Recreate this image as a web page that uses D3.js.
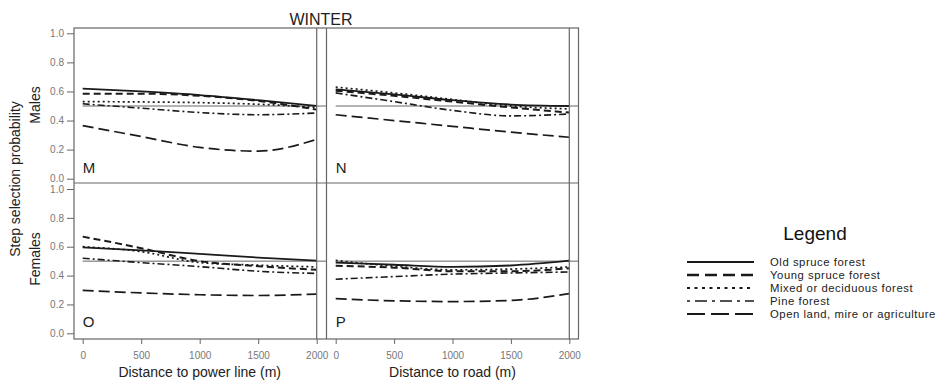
<!DOCTYPE html>
<html><head><meta charset="utf-8">
<script src="https://cdn.jsdelivr.net/npm/d3@7"></script>
<style>body{margin:0;background:#fff}svg{display:block}text{font-family:"Liberation Sans",Arial,sans-serif}</style>
</head><body><svg id="c" width="943" height="381"></svg>
<script>
const distances = [0, 500, 1000, 1500, 2000];
const habitats = ["Old spruce forest","Young spruce forest","Mixed or deciduous forest","Pine forest","Open land, mire or agriculture"];
const xTicks = [0, 500, 1000, 1500, 2000];
const yTicks = [0, 0.2, 0.4, 0.6, 0.8, 1.0];
// Panel M: males, distance to power line
const males_power = [
  [0.62, 0.60, 0.575, 0.54, 0.50],
  [0.585, 0.585, 0.57, 0.535, 0.475],
  [0.53, 0.528, 0.523, 0.512, 0.49],
  [0.515, 0.485, 0.455, 0.44, 0.452],
  [0.365, 0.29, 0.215, 0.19, 0.27]
];
// Panel N: males, distance to road
const males_road = [
  [0.615, 0.58, 0.54, 0.51, 0.50],
  [0.605, 0.57, 0.53, 0.49, 0.455],
  [0.63, 0.59, 0.545, 0.50, 0.48],
  [0.59, 0.53, 0.47, 0.432, 0.445],
  [0.44, 0.40, 0.36, 0.32, 0.285]
];
// Panel O: females, distance to power line
const females_power = [
  [0.595, 0.575, 0.55, 0.525, 0.503],
  [0.67, 0.59, 0.50, 0.465, 0.44],
  [0.60, 0.566, 0.49, 0.472, 0.46],
  [0.52, 0.49, 0.462, 0.43, 0.415],
  [0.297, 0.28, 0.267, 0.262, 0.272]
];
// Panel P: females, distance to road
const females_road = [
  [0.49, 0.475, 0.46, 0.47, 0.503],
  [0.468, 0.455, 0.43, 0.43, 0.45],
  [0.505, 0.465, 0.44, 0.445, 0.46],
  [0.375, 0.393, 0.41, 0.418, 0.425],
  [0.24, 0.225, 0.22, 0.228, 0.275]
];
const panelLetters = ["M","N","O","P"];
const refValue = 0.5;

const styles = [
  {dash:null, w:1.8},
  {dash:"7,4", w:2},
  {dash:"2,3", w:1.7},
  {dash:"7,3,2,3", w:1.6},
  {dash:"11,5", w:1.7}
];
const legendStyles = [
  {dash:null, w:2},
  {dash:"12,6", w:2.6},
  {dash:"3,4.5", w:2},
  {dash:"3,5,12,5", w:1.6},
  {dash:"18,6", w:2}
];

const svg = d3.select("#c");
const frameColor = "#666", lineColor = "#1a1a1a", tickText = "#777";

const xL = d3.scaleLinear().domain([0,2000]).range([82.7,316.7]);
const xR = d3.scaleLinear().domain([0,2000]).range([335.7,569.3]);
const yT = d3.scaleLinear().domain([0,1]).range([178.7,33.3]);
const yB = d3.scaleLinear().domain([0,1]).range([333.3,189]);

const panels = [
  {data:males_power, x:xL, y:yT, x0:74, x1:326.5, y0:28, y1:183, letter:panelLetters[0]},
  {data:males_road, x:xR, y:yT, x0:326.5, x1:578.5, y0:28, y1:183, letter:panelLetters[1]},
  {data:females_power, x:xL, y:yB, x0:74, x1:326.5, y0:183, y1:339, letter:panelLetters[2]},
  {data:females_road, x:xR, y:yB, x0:326.5, x1:578.5, y0:183, y1:339, letter:panelLetters[3]}
];

panels.forEach(p => {
  svg.append("line").attr("x1", p.x(0)).attr("x2", p.x1)
    .attr("y1", p.y(refValue)).attr("y2", p.y(refValue))
    .attr("stroke", frameColor).attr("stroke-width", 1);
  const line = d3.line().x((d,i)=>p.x(distances[i])).y(d=>p.y(d)).curve(d3.curveMonotoneX);
  p.data.forEach((s,k) => {
    svg.append("path").attr("d", line(s)).attr("fill","none")
      .attr("stroke", lineColor).attr("stroke-width", styles[k].w)
      .attr("stroke-dasharray", styles[k].dash);
  });
  svg.append("text").attr("x", p.x(0)).attr("y", p.y(0) - 6)
    .attr("font-size", 15).attr("fill", "#222").text(p.letter);
});

const fr = svg.append("g").attr("stroke", frameColor).attr("stroke-width", 1.2).attr("fill","none");
fr.append("rect").attr("x",74).attr("y",28).attr("width",504.5).attr("height",311);
fr.append("line").attr("x1",74).attr("x2",578.5).attr("y1",183).attr("y2",183);
fr.append("line").attr("x1",326.5).attr("x2",326.5).attr("y1",28).attr("y2",339);
fr.append("line").attr("x1",xL(2000)).attr("x2",xL(2000)).attr("y1",28).attr("y2",339);
fr.append("line").attr("x1",xR(2000)).attr("x2",xR(2000)).attr("y1",28).attr("y2",339);

function styleAxis(g){
  g.select(".domain").remove();
  g.selectAll(".tick line").attr("stroke", frameColor);
  g.selectAll(".tick text").attr("fill", tickText).attr("font-size", 10)
    .attr("font-family", '"Liberation Sans",Arial,sans-serif');
}
[yT, yB].forEach(ys => {
  svg.append("g").attr("transform","translate(74,0)")
    .call(d3.axisLeft(ys).tickValues(yTicks).tickSize(7).tickPadding(3).tickFormat(d3.format(".1f")))
    .call(styleAxis);
});
[xL, xR].forEach(xs => {
  svg.append("g").attr("transform","translate(0,339)")
    .call(d3.axisBottom(xs).tickValues(xTicks).tickSize(5).tickPadding(8).tickFormat(d3.format("d")))
    .call(styleAxis);
});

svg.append("text").attr("x", 321).attr("y", 25).attr("text-anchor","middle")
  .attr("font-size", 16).attr("fill","#222").text("WINTER");
svg.append("text").attr("x", xL(1000)).attr("y", 376.5).attr("text-anchor","middle")
  .attr("font-size", 14).attr("fill","#222").text("Distance to power line (m)");
svg.append("text").attr("x", xR(1000)).attr("y", 376.5).attr("text-anchor","middle")
  .attr("font-size", 14).attr("fill","#222").text("Distance to road (m)");
svg.append("text").attr("transform","translate(20,179) rotate(-90)").attr("text-anchor","middle")
  .attr("font-size", 14).attr("fill","#222").text("Step selection probability");
svg.append("text").attr("transform","translate(40,105) rotate(-90)").attr("text-anchor","middle")
  .attr("font-size", 14).attr("fill","#222").text("Males");
svg.append("text").attr("transform","translate(40,259) rotate(-90)").attr("text-anchor","middle")
  .attr("font-size", 14).attr("fill","#222").text("Females");

svg.append("text").attr("x", 815).attr("y", 240).attr("text-anchor","middle")
  .attr("font-size", 19).attr("fill","#111").text("Legend");
const legY = d3.scaleLinear().domain([0,4]).range([262,314]);
habitats.forEach((h,k) => {
  svg.append("line").attr("x1",687).attr("x2",754).attr("y1",legY(k)).attr("y2",legY(k))
    .attr("stroke", lineColor).attr("stroke-width", legendStyles[k].w)
    .attr("stroke-dasharray", legendStyles[k].dash);
  svg.append("text").attr("x",770).attr("y",legY(k)+4).attr("font-size",11.3)
    .attr("letter-spacing", 0.55).attr("fill","#222").text(h);
});
</script></body></html>
